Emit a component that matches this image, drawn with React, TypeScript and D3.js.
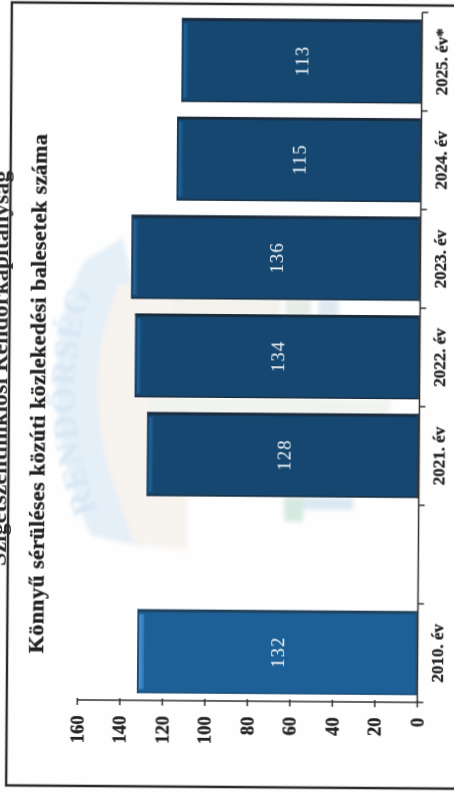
import React from "react";
import * as D3 from "d3";

const categories = ["2025. év*", "2024. év", "2023. év", "2022. év", "2021. év", "", "2010. év"];
const values = [113, 115, 136, 134, 128, null, 132];
const valueTicks = [0, 20, 40, 60, 80, 100, 120, 140, 160];
const title = "Könnyű sérüléses közúti közlekedési balesetek száma";
const heading = "Szigetszentmiklósi Rendőrkapitányság";
const watermarkWord = "RENDŐRSÉG";

const W = 454, H = 792;
const serif = "'Liberation Serif', serif";

export default function App() {
  const x = D3.scaleLinear().domain([0, 160]).range([419.5, 79.5]);
  const y = D3.scaleBand<string>().domain(categories.map((c, i) => c || "blank" + i)).range([11, 701]).paddingInner(0.15).paddingOuter(0.075);
  const keys = y.domain();
  const edges = D3.range(keys.length + 1).map(i => 11 + i * y.step());
  const axisY = 701;
  const heavy = { stroke: "#222", strokeWidth: 0.35 };
  return (
    <svg width={W} height={H} viewBox={`0 0 ${W} ${H}`} style={{ position: "absolute", left: 0, top: 0, background: "#fefefe" }}>
      <defs>
        <filter id="soft" x="-5%" y="-5%" width="110%" height="110%"><feGaussianBlur stdDeviation="0.45" /></filter>
        <filter id="wm" x="-10%" y="-10%" width="120%" height="120%"><feGaussianBlur stdDeviation="2" /></filter>
        <filter id="wmText" x="-10%" y="-10%" width="120%" height="120%"><feGaussianBlur stdDeviation="1.4" /></filter>
        <path id="wmArc" d="M98,512 Q50,385 100,268" />
        <linearGradient id="hiDark" x1="0" x2="1" y1="0" y2="0">
          <stop offset="0" stopColor="#246aa2" />
          <stop offset="1" stopColor="#12466f" />
        </linearGradient>
        <linearGradient id="hiLight" x1="0" x2="1" y1="0" y2="0">
          <stop offset="0" stopColor="#4c95d4" />
          <stop offset="1" stopColor="#2a74b0" />
        </linearGradient>
      </defs>
      <g transform={`rotate(0.42 ${W / 2} ${H / 2})`} filter="url(#soft)">
        {/* watermark */}
        <g filter="url(#wm)">
          <path d="M84,262 L122,238 L134,296 L100,385 L130,490 L145,548 L92,536 Q58,470 56,385 Q56,310 84,262 Z" fill="#e4eff8" />
          <path d="M118,285 Q78,380 115,490 L135,545 L188,550 L188,285 Z" fill="#f7f3ef" />
          <rect x={285} y={497} width={19} height={24} fill="#d5e9e0" />
          <rect x={304} y={497} width={50} height={12} fill="#dbe8f3" />
          <rect x={285} y={299} width={25} height={16} fill="#e4ece7" />
          <rect x={318} y={299} width={20} height={16} fill="#dfe8f1" />
          <rect x={175} y={299} width={105} height={16} fill="#f2f1ea" />
          <rect x={150} y={398} width={240} height={15} fill="#f0f3ee" />
        </g>
        <text fontFamily={serif} fontWeight="bold" fontSize={34} letterSpacing={1} fill="#d8e7f4" filter="url(#wmText)">
          <textPath href="#wmArc" startOffset="0">{watermarkWord}</textPath>
        </text>

        {/* heading cut by the frame */}
        <text transform={`translate(7 370) rotate(-90)`} textAnchor="middle" fontFamily={serif} fontWeight="bold" fontSize={24} fill="#2a2a2a">{heading}</text>
        {/* frame */}
        <path d={`M470,4 H9 V787 H470`} fill="none" stroke="#2b2b2b" strokeWidth={2.4} />

        {/* title */}
        <text transform={`translate(45 395) rotate(-90)`} textAnchor="middle" fontFamily={serif} fontWeight="bold" fontSize={22} fill="#222" textLength={519} lengthAdjust="spacing" {...heavy}>{title}</text>

        {/* bars */}
        {keys.map((k, i) => {
          const v = values[i];
          if (v == null) return null;
          const bx = x(v), by = y(k)!, bw = x(0) - x(v), bh = y.bandwidth();
          const is2010 = categories[i].startsWith("2010");
          return (
            <g key={k}>
              <rect x={bx} y={by} width={bw} height={bh} fill={is2010 ? "#1c6097" : "#12466f"} />
              <rect x={bx} y={by} width={bw} height={2.8} fill={is2010 ? "#24425a" : "#1b2c3a"} />
              <rect x={bx} y={by + bh - 1.2} width={bw} height={1.2} fill={is2010 ? "#1c4a70" : "#1b2c3a"} />
              <rect x={bx + bw - 2.5} y={by} width={2.5} height={bh} fill={is2010 ? "#2c5573" : "#293e50"} />
              <rect x={bx} y={by} width={1.5} height={bh} fill={is2010 ? "#1c4a70" : "#1a3a58"} />
              <rect x={bx + 2} y={by + 5} width={5} height={bh - 9} fill={is2010 ? "url(#hiLight)" : "url(#hiDark)"} />
              <text transform={`translate(${(x(v) + x(0)) / 2 + 1} ${by + bh / 2}) rotate(-90)`} textAnchor="middle" dominantBaseline="central" fontFamily={serif} fontSize={18.5} letterSpacing={1.2} fill="#f2f5f8">{v}</text>
            </g>
          );
        })}

        {/* value axis */}
        <line x1={x(160)} x2={x(0)} y1={axisY} y2={axisY} stroke="#333" strokeWidth={1.5} />
        {valueTicks.map(t => (
          <g key={t}>
            <line x1={x(t)} x2={x(t)} y1={axisY - 2} y2={axisY + 5} stroke="#333" strokeWidth={1.5} />
            <text transform={`translate(${x(t)} 716.5) rotate(-90)`} textAnchor="end" dominantBaseline="central" fontFamily={serif} fontWeight="bold" fontSize={18.5} fill="#222" {...heavy}>{t}</text>
          </g>
        ))}

        {/* category axis */}
        <line x1={x(0)} x2={x(0)} y1={edges[0]} y2={axisY} stroke="#333" strokeWidth={1.5} />
        {edges.map(e => <line key={e} x1={x(0)} x2={x(0) + 6} y1={e} y2={e} stroke="#333" strokeWidth={1.5} />)}
        {keys.map((k, i) => categories[i] ? (
          <text key={k} transform={`translate(439.5 ${y(k)! + y.bandwidth() / 2}) rotate(-90)`} textAnchor="middle" dominantBaseline="central" fontFamily={serif} fontWeight="bold" fontSize={17} fill="#222" {...heavy}>{categories[i]}</text>
        ) : null)}
      </g>
    </svg>
  );
}
